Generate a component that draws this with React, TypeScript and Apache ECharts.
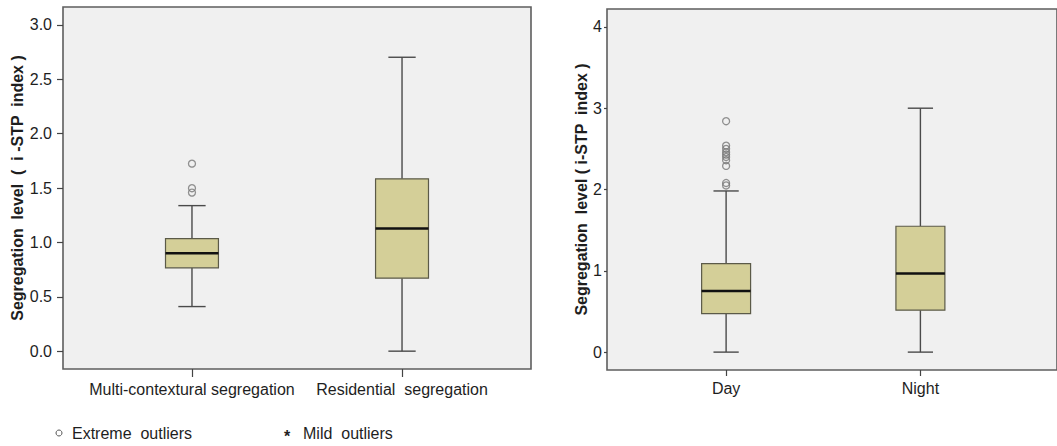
import React, { useEffect, useRef } from "react";
import * as echarts from "echarts";

// Left panel
const leftCategories = ["Multi-contextural segregation", "Residential  segregation"];
// [low whisker, Q1, median, Q3, high whisker]
const leftStats = [
  [0.41, 0.766, 0.901, 1.035, 1.338],
  [0.0, 0.671, 1.127, 1.584, 2.702],
];
const leftOutliers = [
  [0, 1.724],
  [0, 1.498],
  [0, 1.458],
];
const leftTicks = [0, 0.5, 1.0, 1.5, 2.0, 2.5, 3.0];

// Right panel
const rightCategories = ["Day", "Night"];
const rightStats = [
  [0.0, 0.474, 0.753, 1.088, 1.982],
  [0.0, 0.516, 0.966, 1.548, 3.0],
];
const rightOutliers = [
  [0, 2.84],
  [0, 2.54],
  [0, 2.5],
  [0, 2.46],
  [0, 2.43],
  [0, 2.4],
  [0, 2.36],
  [0, 2.29],
  [0, 2.08],
  [0, 2.05],
];
const rightTicks = [0, 1, 2, 3, 4];

const FONT = "Liberation Sans, Arial, sans-serif";
const TEXT = "#1e1e1e";

function boxRenderer(params: any, api: any) {
  const x = api.value(0);
  const low = api.coord([x, api.value(1)]);
  const q1 = api.coord([x, api.value(2)]);
  const med = api.coord([x, api.value(3)]);
  const q3 = api.coord([x, api.value(4)]);
  const high = api.coord([x, api.value(5)]);
  const bw = api.size([0.252, 0])[0];
  const cw = api.size([0.13, 0])[0];
  const cx = low[0];
  const whisker = { stroke: "#4a4a4a", lineWidth: 1.4 };
  return {
    type: "group",
    children: [
      { type: "line", shape: { x1: cx, y1: low[1], x2: cx, y2: q1[1] }, style: whisker },
      { type: "line", shape: { x1: cx, y1: q3[1], x2: cx, y2: high[1] }, style: whisker },
      { type: "line", shape: { x1: cx - cw / 2, y1: low[1], x2: cx + cw / 2, y2: low[1] }, style: whisker },
      { type: "line", shape: { x1: cx - cw / 2, y1: high[1], x2: cx + cw / 2, y2: high[1] }, style: whisker },
      {
        type: "rect",
        shape: { x: cx - bw / 2, y: q3[1], width: bw, height: q1[1] - q3[1] },
        style: { fill: "#d4cf98", stroke: "#5b5a48", lineWidth: 1.2 },
      },
      {
        type: "line",
        shape: { x1: cx - bw / 2, y1: med[1], x2: cx + bw / 2, y2: med[1] },
        style: { stroke: "#111", lineWidth: 2.5 },
      },
    ],
  };
}

export default function App() {
  const ref = useRef<HTMLDivElement>(null);
  useEffect(() => {
    if (!ref.current) return;
    const chart = echarts.init(ref.current, null, { renderer: "svg" });

    const mkY = (idx: number, min: number, max: number, ticks: number[], dec: number, name: string, nameGap: number, tickLen: number, margin: number) => ({
      type: "value",
      gridIndex: idx,
      min,
      max,
      name,
      nameLocation: "middle",
      nameGap,
      nameTextStyle: { fontFamily: FONT, fontWeight: "bold", fontSize: 16, color: TEXT },
      axisLine: { show: false, onZero: false },
      splitLine: { show: false },
      axisTick: { show: true, customValues: ticks, length: tickLen, lineStyle: { color: "#444", width: 1.2 } },
      axisLabel: {
        customValues: ticks,
        formatter: (v: number) => v.toFixed(dec),
        fontFamily: FONT,
        fontSize: 16,
        color: TEXT,
        margin,
      },
    });

    const mkX = (idx: number, min: number, max: number, cats: string[], tickLen: number, margin: number) => ({
      type: "value",
      gridIndex: idx,
      min,
      max,
      axisLine: { show: false, onZero: false },
      splitLine: { show: false },
      axisTick: { show: true, customValues: cats.map((_, i) => i), length: tickLen, lineStyle: { color: "#444", width: 1.2 } },
      axisLabel: {
        customValues: cats.map((_, i) => i),
        formatter: (v: number) => cats[Math.round(v)] ?? "",
        fontFamily: FONT,
        fontSize: 16,
        color: TEXT,
        margin,
      },
    });

    const outlierStyle = {
      color: "rgba(0,0,0,0)",
      borderColor: "#777",
      borderWidth: 1.3,
    };

    chart.setOption({
      animation: false,
      backgroundColor: "#ffffff",
      grid: [
        {
          left: 63,
          top: 7,
          width: 468,
          height: 362,
          show: true,
          backgroundColor: "#f0f0f0",
          borderColor: "#5e5e5e",
          borderWidth: 1.6,
        },
        {
          left: 607,
          top: 9,
          width: 460,
          height: 361,
          show: true,
          backgroundColor: "#f0f0f0",
          borderColor: "#5e5e5e",
          borderWidth: 1.6,
        },
      ],
      xAxis: [
        mkX(0, -0.614, 1.614, leftCategories, 8, 12),
        mkX(1, -0.613, 1.703, rightCategories, 6, 10),
      ],
      yAxis: [
        mkY(0, -0.164, 3.164, leftTicks, 1, "Segregation  level  (  i -STP  index )", 38, 6, 11),
        mkY(1, -0.22, 4.22, rightTicks, 0, "Segregation  level ( i-STP  index )", 17, 3, 5),
      ],
      series: [
        {
          type: "custom",
          xAxisIndex: 0,
          yAxisIndex: 0,
          renderItem: boxRenderer,
          encode: { x: 0, y: [1, 2, 3, 4, 5] },
          data: leftStats.map((s, i) => [i, ...s]),
          z: 2,
        },
        {
          type: "scatter",
          xAxisIndex: 0,
          yAxisIndex: 0,
          symbol: "circle",
          symbolSize: 7,
          itemStyle: outlierStyle,
          data: leftOutliers,
          z: 3,
        },
        {
          type: "custom",
          xAxisIndex: 1,
          yAxisIndex: 1,
          renderItem: boxRenderer,
          encode: { x: 0, y: [1, 2, 3, 4, 5] },
          data: rightStats.map((s, i) => [i, ...s]),
          z: 2,
        },
        {
          type: "scatter",
          xAxisIndex: 1,
          yAxisIndex: 1,
          symbol: "circle",
          symbolSize: 7,
          itemStyle: outlierStyle,
          data: rightOutliers,
          z: 3,
        },
      ],
      graphic: [
        {
          type: "circle",
          shape: { cx: 59, cy: 433, r: 3 },
          style: { fill: "none", stroke: "#555", lineWidth: 1 },
        },
        {
          type: "text",
          x: 72,
          y: 433,
          style: { text: "Extreme  outliers", fontFamily: FONT, fontSize: 16, fill: TEXT, verticalAlign: "middle" },
        },
        {
          type: "text",
          x: 284,
          y: 436,
          style: { text: "*", fontFamily: FONT, fontSize: 16, fontWeight: "bold", fill: "#222", verticalAlign: "middle" },
        },
        {
          type: "text",
          x: 303,
          y: 433,
          style: { text: "Mild  outliers", fontFamily: FONT, fontSize: 16, fill: TEXT, verticalAlign: "middle" },
        },
      ],
    });

    return () => chart.dispose();
  }, []);

  return (
    <div
      ref={ref}
      style={{ position: "absolute", left: 0, top: 0, width: 1057, height: 446 }}
    />
  );
}
